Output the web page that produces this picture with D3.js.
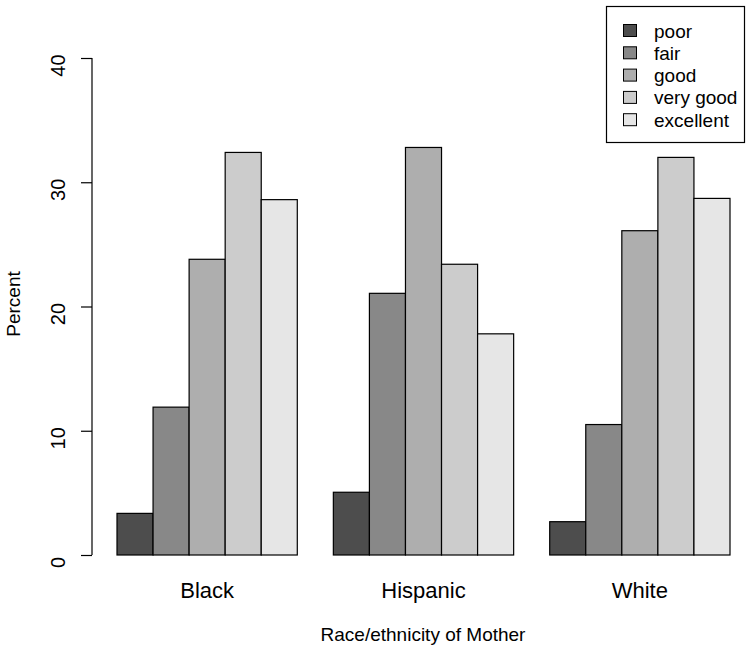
<!DOCTYPE html>
<html>
<head>
<meta charset="utf-8">
<script src="https://cdn.jsdelivr.net/npm/d3@7"></script>
<style>
  html, body { margin: 0; padding: 0; background: #fff; }
  text { font-family: "Liberation Sans", Arial, Helvetica, sans-serif; fill: #000; }
</style>
</head>
<body>
<svg id="chart" width="751" height="653"></svg>
<script>
const groups = ["Black", "Hispanic", "White"];
const ratings = ["poor", "fair", "good", "very good", "excellent"];
const poor      = [3.35, 5.05, 2.68];
const fair      = [11.9, 21.06, 10.5];
const good      = [23.8, 32.8, 26.1];
const veryGood  = [32.4, 23.4, 32.0];
const excellent = [28.6, 17.8, 28.7];
const yTicks = [0, 10, 20, 30, 40];
const colors = ["#4D4D4D", "#888888", "#AEAEAE", "#CCCCCC", "#E6E6E6"];

const series = [poor, fair, good, veryGood, excellent];
const data = groups.map((g, gi) => ({
  group: g,
  values: ratings.map((r, ri) => ({ rating: r, value: series[ri][gi] }))
}));

const svg = d3.select("#chart");

const x0 = d3.scaleBand().domain(groups).range([117, 730]).paddingInner(1/6).paddingOuter(0);
const x1 = d3.scaleBand().domain(ratings).range([0, x0.bandwidth()]).padding(0);
const y = d3.scaleLinear().domain([0, 40]).range([555, 58]);
const color = d3.scaleOrdinal().domain(ratings).range(colors);

// bars
const g = svg.append("g");
g.selectAll("g.grp").data(data).join("g")
  .attr("class", "grp")
  .attr("transform", d => `translate(${x0(d.group)},0)`)
  .selectAll("rect").data(d => d.values).join("rect")
  .attr("x", d => x1(d.rating))
  .attr("y", d => y(d.value))
  .attr("width", x1.bandwidth())
  .attr("height", d => y(0) - y(d.value))
  .attr("fill", d => color(d.rating))
  .attr("stroke", "#000")
  .attr("stroke-width", 1.2);

// y axis
const yAxis = d3.axisLeft(y).tickValues(yTicks).tickSize(11).tickPadding(0).tickFormat(d3.format("d"));
const ya = svg.append("g").attr("transform", "translate(92,0)").call(yAxis);
ya.select(".domain").attr("stroke", "#000").attr("stroke-width", 1.2).attr("d", `M0,${y(0)}V${y(40)}`);
ya.selectAll(".tick line").attr("stroke", "#000").attr("stroke-width", 1.2);
ya.selectAll(".tick text")
  .attr("x", null).attr("dy", null)
  .attr("text-anchor", "middle")
  .attr("transform", "translate(-27,7) rotate(-90)")
  .style("font-size", "20px")
  .style("font-family", "'Liberation Sans', Arial, sans-serif");

// group names
const xAxis = d3.axisBottom(x0).tickSize(0).tickPadding(0);
const xa = svg.append("g").attr("transform", "translate(0,555)").call(xAxis);
xa.select(".domain").remove();
xa.selectAll(".tick text")
  .attr("y", 43).attr("dy", null)
  .style("font-size", "22px")
  .style("font-family", "'Liberation Sans', Arial, sans-serif");

// axis titles
svg.append("text")
  .attr("x", 423).attr("y", 641)
  .attr("text-anchor", "middle")
  .style("font-size", "19px")
  .text("Race/ethnicity of Mother");
svg.append("text")
  .attr("transform", "translate(20,304) rotate(-90)")
  .attr("text-anchor", "middle")
  .style("font-size", "19px")
  .text("Percent");

// legend
const lg = svg.append("g");
lg.append("rect").attr("x", 606.5).attr("y", 6.5).attr("width", 138).attr("height", 136)
  .attr("fill", "#fff").attr("stroke", "#000").attr("stroke-width", 1.2);
const items = lg.selectAll("g.item").data(ratings).join("g")
  .attr("class", "item")
  .attr("transform", (d, i) => `translate(0,${31 + i * 22.3})`);
items.append("rect")
  .attr("x", 623.5).attr("y", -6.5).attr("width", 13).attr("height", 12)
  .attr("fill", d => color(d)).attr("stroke", "#000").attr("stroke-width", 1);
items.append("text")
  .attr("x", 654).attr("y", 6.5)
  .style("font-size", "19px")
  .text(d => d);
</script>
</body>
</html>
